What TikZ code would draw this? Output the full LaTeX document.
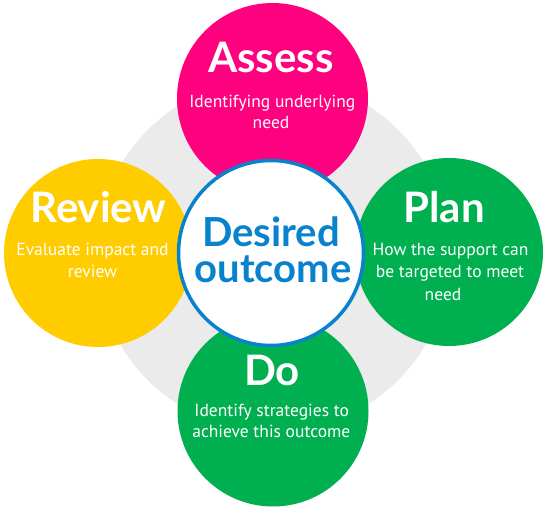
\documentclass[tikz,border=0pt]{standalone}
\usepackage{fontspec}
\setmainfont{Lato}
\newfontfamily\bodyfont{PT Sans}
\definecolor{pinkA}{RGB}{255,0,127}
\definecolor{yellowA}{RGB}{255,204,0}
\definecolor{greenA}{RGB}{0,176,80}
\definecolor{blueA}{RGB}{8,130,204}
\definecolor{greyA}{RGB}{235,235,235}
\begin{document}
\begin{tikzpicture}[x=1pt,y=-1pt,
  disk/.style={circle, inner sep=0pt, outer sep=0pt, draw=none},
  head/.style={text=white, font=\fontsize{42}{46}\selectfont\bfseries, inner sep=0pt, anchor=base},
  body/.style={text=white, font=\bodyfont\fontsize{17.5}{23}\selectfont, inner sep=0pt, align=center, anchor=base},
  mid/.style={text=blueA, font=\fontsize{40}{36}\selectfont\bfseries, inner sep=0pt, anchor=base}]
\useasboundingbox (0,0) rectangle (548,518);
\node[disk, fill=greyA, minimum size=354pt] (ring) at (273,255) {};
\node[disk, fill=pinkA, minimum size=191pt] (assess) at (272.5,98.5) {};
\node[disk, fill=yellowA, minimum size=188pt] (review) at (98,253) {};
\node[disk, fill=greenA, minimum size=188pt] (plan) at (449,252) {};
\node[disk, fill=greenA, minimum size=191pt] (do) at (273,411) {};
\node[disk, fill=white, draw=blueA, line width=3.5pt, minimum size=185pt] (centre) at (271,253) {};
% headings
\node[head] (assessH) at (271,73) {Assess};
\node[head] (reviewH) at (98.5,223) {Review};
\node[head] (planH) at (444,223) {Plan};
\node[head] (doH) at (272,385) {Do};
% body texts
\node[body] (assessB1) at (272.3,108) {Identifying underlying};
\node[body] (assessB2) at (271,128.5) {need};
\node[body] (reviewB1) at (92.5,255.5) {Evaluate impact and};
\node[body] (reviewB2) at (92.5,277.5) {review};
\node[body] (planB1) at (450.5,256) {How the support can};
\node[body] (planB2) at (450,278) {be targeted to meet};
\node[body] (planB3) at (443,300) {need};
\node[body] (doB1) at (271.7,416.5) {Identify strategies to};
\node[body] (doB2) at (271.3,437) {achieve this outcome};
% centre
\node[mid] (midA) at (271,246.5) {Desired};
\node[mid] (midB) at (273,283) {outcome};
\end{tikzpicture}
\end{document}
